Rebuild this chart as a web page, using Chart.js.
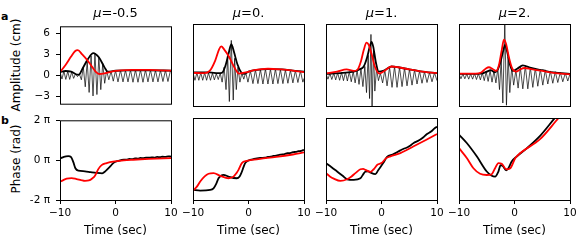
<!DOCTYPE html>
<html>
<head>
<meta charset="utf-8">
<script src="https://cdn.jsdelivr.net/npm/chart.js@4.4.0/dist/chart.umd.min.js"></script>
<style>
  body { margin: 0; background: #fff; }
  #fig { position: relative; width: 581px; height: 242px; overflow: hidden; font-family: "DejaVu Sans", sans-serif; color: #000; }
  #fig canvas { position: absolute; }
  .txt { position: absolute; white-space: nowrap; }
  .title { font-size: 13px; line-height: 13px; text-align: center; width: 111px; top: 6px; }
  .xlab { font-size: 12px; line-height: 12px; text-align: center; width: 111px; top: 224px; }
  .ylab { font-size: 12px; line-height: 12px; text-align: center; width: 150px; left: -59px; transform: rotate(-90deg); }
  .letter { font-size: 11px; line-height: 11px; font-weight: bold; left: 1px; }
</style>
</head>
<body>
<div id="fig">
  <div class="txt letter" style="top:11px">a</div>
  <div class="txt letter" style="top:115px">b</div>
  <div class="txt ylab" style="top:59px">Amplitude (cm)</div>
  <div class="txt ylab" style="top:153px">Phase (rad)</div>
</div>
<script>
// axis ticks and panel labels
const xTicks = [-10, 0, 10]
const ampTicks = [-3, 0, 3, 6]
const phaseTicks = [-2, 0, 2]   // units of pi
const muLabels = ["-0.5", "0.", "1.", "2."]

// ---- mu = -0.5 ----
const sigA = [[-10,0.5],[-9.65,-0.5],[-9.3,0.6],[-8.95,-0.55],[-8.6,0.6],[-8.25,-0.55],[-7.9,0.5],[-7.55,-0.4],
  [-7.2,0.25],[-6.85,-0.15],[-6.5,0.2],[-6.15,-0.6],[-5.8,1.2],[-5.45,-1.6],[-5.1,2.0],[-4.75,-2.4],[-4.4,2.8],
  [-4.05,-2.9],[-3.7,3.2],[-3.35,-2.7],[-3.0,2.6],[-2.65,-2.0],[-2.3,1.7],[-1.95,-1.1],[-1.6,0.7],[-1.2,-0.6],
  [-0.8,0.6],[-0.4,-0.8],[0,0.7],[0.45,-0.9],[0.9,0.75],[1.35,-0.9],[1.8,0.75],[2.25,-0.9],[2.7,0.8],[3.15,-0.95],
  [3.6,0.8],[4.05,-0.95],[4.5,0.8],[4.95,-0.95],[5.4,0.8],[5.85,-0.9],[6.3,0.8],[6.75,-0.9],[7.2,0.75],[7.65,-0.9],
  [8.1,0.75],[8.55,-0.85],[9.0,0.75],[9.45,-0.85],[9.9,0.7],[10,0.5]]
const envDataA = [[-10,0.5],[-9,0.65],[-8,0.55],[-7,0.15],[-6.6,0.12],[-6,0.9],[-5,2.3],[-4,3.2],[-3,2.6],[-2,1.2],
  [-1.4,0.55],[-0.5,0.62],[0,0.68],[2,0.75],[6,0.75],[10,0.7]]
const envModelA = [[-10,0.5],[-9,1.5],[-8,2.7],[-7.3,3.45],[-6.8,3.6],[-6,3.0],[-5,2.1],[-4,1.0],[-3.5,0.5],
  [-2.9,0.22],[-2,0.3],[-1,0.5],[0,0.65],[1,0.75],[3,0.8],[6,0.8],[8,0.75],[10,0.7]]
const phaseDataA = [[-10,0.08],[-9.3,0.17],[-8.5,0.2],[-8,0.15],[-7.6,-0.1],[-7.2,-0.42],[-6.7,-0.53],[-5.5,-0.56],
  [-4.5,-0.6],[-3.4,-0.64],[-2.4,-0.66],[-1.8,-0.55],[-1,-0.33],[-0.4,-0.15],[0,-0.08],[0.5,-0.04],[1,0],[1.5,0.03],
  [2,0.02],[2.5,0.06],[3,0.05],[3.5,0.09],[4,0.08],[4.5,0.11],[5,0.1],[5.5,0.13],[6,0.12],[6.5,0.14],[7,0.13],
  [7.5,0.16],[8,0.15],[8.5,0.17],[9,0.16],[9.5,0.19],[10,0.18]]
const phaseModelA = [[-10,-1.09],[-9.4,-1.0],[-8.8,-0.93],[-7.9,-0.9],[-7,-0.95],[-6.2,-1.0],[-5.5,-1.04],[-4.8,-1.02],
  [-4.2,-0.92],[-3.7,-0.78],[-3.1,-0.45],[-2.5,-0.25],[-1.6,-0.15],[0,-0.06],[1.5,-0.01],[3.2,0.02],[6,0.06],[10,0.1]]

// ---- mu = 0 ----
const sigB = [[-10,0.45],[-9.65,-0.55],[-9.3,0.45],[-8.95,-0.55],[-8.6,0.45],[-8.25,-0.55],[-7.9,0.45],[-7.55,-0.55],
  [-7.2,0.45],[-6.85,-0.55],[-6.5,0.4],[-6.15,-0.5],[-5.8,0.35],[-5.45,-0.45],[-5.1,0.4],[-4.75,-0.8],[-4.4,1.2],
  [-4.05,-1.8],[-3.75,2.6],[-3.45,-3.4],[-3.1,4.8],[-2.75,-3.2],[-2.5,2.4],[-2.2,-1.8],[-1.9,1.2],[-1.55,-0.8],
  [-1.2,0.4],[-0.85,-0.4],[-0.5,0.5],[-0.1,-0.8],[0.35,0.7],[0.8,-1.0],[1.25,0.85],[1.7,-1.0],[2.15,0.9],[2.6,-1.05],
  [3.05,0.95],[3.5,-1.05],[3.95,0.95],[4.4,-1.05],[4.85,0.95],[5.3,-1.0],[5.75,0.9],[6.2,-1.0],[6.65,0.85],[7.1,-0.95],
  [7.55,0.8],[8.0,-0.9],[8.45,0.75],[8.9,-0.85],[9.35,0.7],[9.8,-0.8],[10,-0.3]]
const envDataB = [[-10,0.5],[-7,0.5],[-5.5,0.4],[-4.8,0.45],[-4.2,1.3],[-3.6,3.0],[-3.1,4.3],[-2.6,3.2],[-2,1.6],
  [-1.3,0.5],[-0.8,0.3],[0,0.6],[1.5,0.85],[3.5,0.95],[6,0.9],[8,0.75],[10,0.6]]
const envModelB = [[-10,0.45],[-8,0.4],[-7,0.7],[-6,2.1],[-5.3,3.6],[-4.9,4.0],[-4.4,3.6],[-3.5,2.6],[-2.6,1.25],
  [-1.7,0.35],[-0.5,0.5],[1,0.8],[3.5,1.0],[6,0.9],[8,0.75],[10,0.55]]
const phaseDataB = [[-10,-1.51],[-8.7,-1.54],[-6.9,-1.51],[-6.3,-1.43],[-5.8,-1.2],[-5.4,-0.94],[-4.9,-0.8],[-4.5,-0.77],
  [-3.6,-0.86],[-2.1,-0.94],[-1.6,-0.85],[-1.3,-0.69],[-0.9,-0.4],[-0.6,-0.2],[0,-0.07],[1,0],[2.1,0.05],[3,0.07],
  [3.5,0.1],[4,0.11],[4.5,0.15],[5,0.16],[5.7,0.21],[6.5,0.24],[7,0.28],[7.5,0.29],[8,0.33],[8.5,0.35],[9,0.38],
  [9.5,0.4],[10,0.45]]
const phaseModelB = [[-10,-1.54],[-9.3,-1.35],[-8.7,-1.1],[-7.9,-0.85],[-7.2,-0.72],[-6.3,-0.69],[-5.1,-0.82],
  [-3.6,-0.94],[-2.7,-0.86],[-2.2,-0.7],[-1.8,-0.53],[-1.2,-0.2],[-0.3,-0.09],[1,-0.03],[2.1,0.01],[5,0.1],[8,0.22],[10,0.32]]

// ---- mu = 1 ----
const sigC = [[-10,0.3],[-9.65,-0.4],[-9.3,0.35],[-8.95,-0.45],[-8.6,0.4],[-8.25,-0.5],[-7.9,0.45],[-7.55,-0.55],
  [-7.2,0.5],[-6.85,-0.6],[-6.5,0.55],[-6.15,-0.65],[-5.8,0.6],[-5.45,-0.75],[-5.1,0.65],[-4.75,-0.9],[-4.4,0.8],
  [-4.05,-1.1],[-3.7,1.0],[-3.35,-1.4],[-3.0,1.3],[-2.7,-2.2],[-2.4,2.8],[-2.15,-3.0],[-1.9,5.6],[-1.7,-4.3],
  [-1.45,3.5],[-1.2,-2.0],[-0.9,1.0],[-0.55,-0.6],[-0.2,0.4],[0.2,-0.9],[0.6,0.8],[1.0,-1.3],[1.45,1.2],[1.9,-1.5],
  [2.35,1.3],[2.8,-1.5],[3.25,1.2],[3.7,-1.4],[4.15,1.1],[4.6,-1.3],[5.05,0.95],[5.5,-1.2],[5.95,0.85],[6.4,-1.05],
  [6.85,0.7],[7.3,-0.95],[7.75,0.6],[8.2,-0.85],[8.65,0.5],[9.1,-0.75],[9.55,0.45],[10,-0.6]]
const envDataC = [[-10,0.3],[-7,0.45],[-5,0.6],[-4,0.9],[-3.2,1.3],[-2.6,2.5],[-2.1,4.0],[-1.8,4.6],[-1.5,4.0],
  [-1,1.8],[-0.5,0.6],[0.3,0.7],[1.8,1.3],[3,1.2],[5,0.9],[7,0.65],[10,0.4]]
const envModelC = [[-10,0.35],[-8,0.6],[-6.3,0.9],[-5,0.7],[-4.3,0.9],[-3.7,2.0],[-3.2,3.5],[-2.7,4.5],[-2.3,4.2],
  [-1.8,3.0],[-1.2,1.3],[-0.4,0.35],[0.5,0.7],[1.8,1.3],[3,1.2],[5,0.9],[7,0.65],[10,0.4]]
const phaseDataC = [[-10,-0.2],[-9,-0.4],[-8,-0.61],[-7,-0.82],[-6.2,-0.99],[-5,-1.02],[-3.8,-0.94],[-3.3,-0.75],
  [-2.9,-0.61],[-2.4,-0.6],[-2,-0.66],[-1.1,-0.74],[-0.6,-0.55],[-0.15,-0.38],[0.3,-0.2],[1,0.1],[2,0.22],[3.4,0.42],
  [4,0.5],[4.5,0.55],[5,0.62],[5.8,0.78],[6.5,0.87],[7,0.95],[7.5,1.05],[8.2,1.22],[9,1.35],[9.5,1.48],[10,1.58]]
const phaseModelC = [[-10,-0.69],[-9.3,-0.85],[-8.6,-0.96],[-7.4,-1.07],[-6.2,-0.99],[-5.4,-0.85],[-4.7,-0.69],
  [-3.8,-0.5],[-3.3,-0.48],[-2.9,-0.53],[-2,-0.63],[-1.4,-0.5],[-0.75,-0.28],[0,-0.2],[0.8,0.03],[1.6,0.13],
  [3.4,0.29],[5.8,0.62],[8,0.93],[10,1.22]]

// ---- mu = 2 ----
const sigD = [[-10,0.3],[-9.65,-0.35],[-9.3,0.3],[-8.95,-0.35],[-8.6,0.3],[-8.25,-0.4],[-7.9,0.3],[-7.55,-0.4],
  [-7.2,0.35],[-6.85,-0.45],[-6.5,0.35],[-6.15,-0.5],[-5.8,0.45],[-5.45,-0.6],[-5.1,0.6],[-4.75,-0.7],[-4.4,0.75],
  [-4.05,-0.8],[-3.7,0.7],[-3.35,-0.9],[-3.0,1.0],[-2.7,-1.8],[-2.4,2.2],[-2.1,-3.6],[-1.75,7.2],[-1.45,-3.9],
  [-1.15,2.6],[-0.85,-2.2],[-0.5,1.2],[-0.15,-1.2],[0.25,0.8],[0.65,-1.6],[1.05,1.2],[1.5,-1.7],[1.95,1.4],[2.4,-1.7],
  [2.85,1.2],[3.3,-1.5],[3.75,1.1],[4.2,-1.35],[4.65,0.95],[5.1,-1.2],[5.55,0.85],[6.0,-1.05],[6.45,0.7],[6.9,-0.95],
  [7.35,0.6],[7.8,-0.85],[8.25,0.5],[8.7,-0.75],[9.15,0.4],[9.6,-0.65],[10,0.3]]
const envDataD = [[-10,0.3],[-6,0.35],[-5,0.6],[-4.3,0.8],[-3.5,0.5],[-3,0.9],[-2.5,2.0],[-2,3.5],[-1.7,4.2],
  [-1.3,3.2],[-0.8,1.5],[-0.3,0.7],[0.5,1.0],[1.5,1.45],[3,1.1],[5,0.8],[7,0.5],[10,0.3]]
const envModelD = [[-10,0.35],[-7,0.35],[-6,0.5],[-5.2,1.0],[-4.6,1.2],[-4,1.0],[-3.3,0.7],[-2.8,1.5],[-2.3,3.5],
  [-1.9,4.9],[-1.5,4.3],[-1,2.5],[-0.4,1.0],[0.3,0.6],[1,0.9],[1.8,1.1],[3,0.95],[5,0.7],[7,0.45],[10,0.25]]
const phaseDataD = [[-10,1.19],[-8.6,0.78],[-6.8,0.13],[-5,-0.61],[-4.1,-0.82],[-3.5,-0.86],[-2.9,-0.61],[-2.5,-0.3],
  [-2.1,-0.35],[-1.5,-0.55],[-1.1,-0.45],[-0.5,-0.12],[0.45,0.13],[2.25,0.53],[4.65,1.14],[7.06,1.93],[10,2.9]]
const phaseModelD = [[-10,0.53],[-8.6,0.05],[-7.4,-0.45],[-6.2,-0.72],[-5,-0.78],[-4.2,-0.76],[-3.5,-0.45],[-2.9,-0.2],
  [-2.3,-0.23],[-1.5,-0.5],[-0.75,-0.45],[0.15,0.05],[1.05,0.29],[4.65,0.98],[7.95,2.0],[10,2.6]]

const panels = [
  {sig: sigA, envData: envDataA, envModel: envModelA, phData: phaseDataA, phModel: phaseModelA},
  {sig: sigB, envData: envDataB, envModel: envModelB, phData: phaseDataB, phModel: phaseModelB},
  {sig: sigC, envData: envDataC, envModel: envModelC, phData: phaseDataC, phModel: phaseModelC},
  {sig: sigD, envData: envDataD, envModel: envModelD, phData: phaseDataD, phModel: phaseModelD}
]

// layout (pixels)
const plotLeft = [60, 193, 326, 459]
const rowTop = [24, 118]
const plotW = 111, plotH = 82
const padL = 45, padR = 12, padT = 10

Chart.defaults.font.family = "DejaVu Sans"
Chart.defaults.color = "#000"

const toXY = arr => arr.map(p => ({x: p[0], y: p[1]}))
const minus = v => v < 0 ? "\u2212" + Math.abs(v) : String(v)

// box round each axes, drawn over the lines like matplotlib spines
const framePlugin = {
  id: "frame",
  afterDatasetsDraw(chart) {
    const a = chart.chartArea, ctx = chart.ctx
    ctx.save()
    ctx.strokeStyle = "#000"
    ctx.lineWidth = 1
    ctx.strokeRect(a.left + 0.5, a.top + 0.5, a.right - a.left, a.bottom - a.top)
    ctx.restore()
  }
}

const fig = document.getElementById("fig")

function makePanel(col, row, datasets) {
  const axisB = row == 1 ? 24 : 10
  const cv = document.createElement("canvas")
  cv.width = padL + plotW + padR
  cv.height = padT + plotH + axisB
  cv.style.left = (plotLeft[col] - padL) + "px"
  cv.style.top = (rowTop[row] - padT) + "px"
  fig.appendChild(cv)

  const showY = col == 0
  const showX = row == 1
  const yScale = row == 0
    ? {min: -4, max: 7, afterBuildTicks: s => { s.ticks = ampTicks.map(v => ({value: v})) }, ticks: {callback: v => minus(v)}}
    : {min: -2, max: 2, afterBuildTicks: s => { s.ticks = phaseTicks.map(v => ({value: v})) }, ticks: {callback: v => v + " \u03c0"}}

  new Chart(cv, {
    type: "line",
    data: {datasets: datasets},
    options: {
      responsive: false,
      animation: false,
      devicePixelRatio: 1,
      events: [],
      layout: {padding: {top: padT, right: padR, left: 0, bottom: 0}},
      plugins: {legend: {display: false}, tooltip: {enabled: false}},
      elements: {point: {radius: 0}},
      scales: {
        x: {
          type: "linear", min: -10, max: 10,
          afterFit: s => { s.height = axisB },
          afterBuildTicks: s => { s.ticks = xTicks.map(v => ({value: v})) },
          ticks: {display: showX, font: {size: 10.5}, padding: 3, maxRotation: 0, callback: v => minus(v)},
          grid: {display: showX, drawOnChartArea: false, drawTicks: true, tickLength: 4, tickColor: "#000"},
          border: {display: false}
        },
        y: {
          type: "linear", min: yScale.min, max: yScale.max,
          afterFit: s => { s.width = padL },
          afterBuildTicks: yScale.afterBuildTicks,
          ticks: {display: showY, font: {size: 10.5}, padding: 6, callback: yScale.ticks.callback},
          grid: {display: showY, drawOnChartArea: false, drawTicks: true, tickLength: 4, tickColor: "#000"},
          border: {display: false}
        }
      }
    },
    plugins: [framePlugin]
  })
}

panels.forEach(function(p, i) {
  // amplitude row: red model on top, then black envelope, then thin record
  makePanel(i, 0, [
    {data: toXY(p.envModel), borderColor: "#ff0000", borderWidth: 1.8, cubicInterpolationMode: "monotone", clip: 0},
    {data: toXY(p.envData), borderColor: "#000", borderWidth: 1.8, cubicInterpolationMode: "monotone", clip: 0},
    {data: toXY(p.sig), borderColor: "#000", borderWidth: 0.7, tension: 0, clip: 0}
  ])
  // phase row
  makePanel(i, 1, [
    {data: toXY(p.phModel), borderColor: "#ff0000", borderWidth: 1.8, cubicInterpolationMode: "monotone", clip: 0},
    {data: toXY(p.phData), borderColor: "#000", borderWidth: 1.8, cubicInterpolationMode: "monotone", clip: 0}
  ])

  const t = document.createElement("div")
  t.className = "txt title"
  t.style.left = plotLeft[i] + "px"
  t.innerHTML = "<i>\u03bc</i>=" + muLabels[i]
  fig.appendChild(t)

  const xl = document.createElement("div")
  xl.className = "txt xlab"
  xl.style.left = plotLeft[i] + "px"
  xl.textContent = "Time (sec)"
  fig.appendChild(xl)
})
</script>
</body>
</html>
